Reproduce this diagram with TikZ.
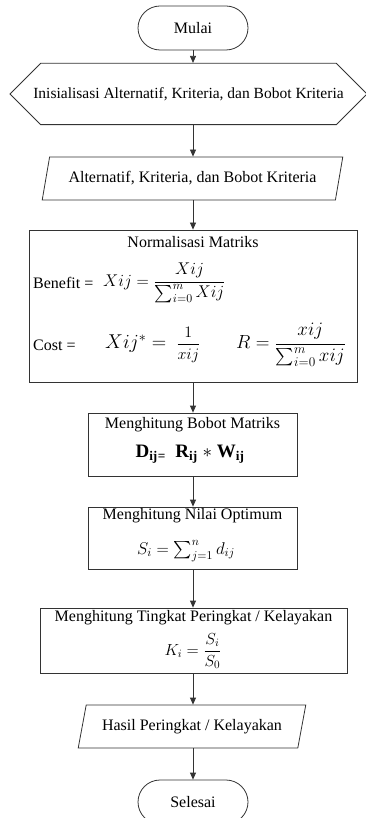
\documentclass[tikz,border=0pt]{standalone}
\usepackage{fix-cm}
\usepackage{amsmath}
\usepackage{fontspec}
\setmainfont{Liberation Serif}
\usetikzlibrary{shapes.geometric,shapes.misc,arrows.meta}

\begin{document}
\begin{tikzpicture}[x=1pt, y=-1pt,
    font=\fontsize{16}{19}\selectfont,
    garis/.style={draw=black!80, line width=0.8pt},
    panah/.style={garis, -{Triangle[length=7pt,width=6pt]}},
    terminal/.style={garis, rounded rectangle, minimum width=110pt,
      minimum height=44pt, inner sep=0pt},
    persiapan/.style={garis, chamfered rectangle, chamfered rectangle xsep=15pt,
      chamfered rectangle ysep=24pt, minimum width=357pt, minimum height=48pt,
      inner sep=0pt},
    masukan/.style={garis, trapezium, trapezium left angle=65,
      trapezium right angle=115, trapezium stretches=true,
      minimum height=43pt, inner sep=0pt},
    proses/.style={garis, rectangle, inner sep=0pt},
    teks/.style={inner sep=0pt}
  ]
  \useasboundingbox (0,0) rectangle (365,818);
  % Mulai
  \node[terminal] (mulai) at (193,28) {Mulai};
  % Inisialisasi (heksagon)
  \node[persiapan, font=\fontsize{15.5}{18}\selectfont] (inisial) at (188.5,94)
    {Inisialisasi Alternatif, Kriteria, dan Bobot Kriteria};
  % Data masukan
  \node[masukan, minimum width=301pt] (input) at (192.5,178.5)
    {Alternatif, Kriteria, dan Bobot Kriteria};
  % Normalisasi matriks
  \node[proses, minimum width=328pt, minimum height=152pt] (norm) at (193,306) {};
  \node[teks] (normjudul) at (193,242) {Normalisasi Matriks};
  \node[teks, anchor=west] (benefit) at (33,283) {Benefit =};
  \node[teks, anchor=west] (rumusb) at (103,283)
    {\fontsize{17}{20}\selectfont$\displaystyle Xij = \frac{Xij}{\sum_{i=0}^{m} Xij}$};
  \node[teks, anchor=west] (cost) at (33,345) {Cost =};
  \node[teks, anchor=west] (rumusc) at (105,345)
    {\fontsize{20}{24}\selectfont$Xij^{*} =$\enspace\fontsize{16}{19}\selectfont$\dfrac{1}{xij}$};
  \node[teks, anchor=west] (rumusr) at (236,345)
    {\fontsize{19}{22}\selectfont$R = \dfrac{xij}{\sum_{i=0}^{m} xij}$};
  % Bobot matriks
  \node[proses, minimum width=209pt, minimum height=63pt] (bobot) at (192.5,444.5) {};
  \node[teks] (bobotjudul) at (192.5,425) {Menghitung Bobot Matriks};
  \node[teks, font=\fontsize{19}{22}\selectfont] (rumusd) at (190,454)
    {\bfseries D\textsubscript{ij}\textsubscript{=}\enspace R\textsubscript{ij} $*$ W\textsubscript{ij}};
  % Nilai optimum
  \node[proses, minimum width=209pt, minimum height=62pt] (optimum) at (192.5,538) {};
  \node[teks] (optjudul) at (192.5,516) {Menghitung Nilai Optimum};
  \node[teks, font=\fontsize{17}{20}\selectfont] (rumuss) at (186,551)
    {$S_i = \sum\nolimits_{j=1}^{n} d_{ij}$};
  % Tingkat peringkat
  \node[proses, minimum width=307pt, minimum height=65pt] (tingkat) at (193.5,640.5) {};
  \node[teks] (tingkatjudul) at (193.5,618) {Menghitung Tingkat Peringkat / Kelayakan};
  \node[teks] (rumusk) at (193,651) {$K_i = \dfrac{S_i}{S_0}$};
  % Hasil
  \node[masukan, minimum width=228pt] (hasil) at (192,726.5)
    {Hasil Peringkat / Kelayakan};
  % Selesai
  \node[terminal] (selesai) at (193,802) {Selesai};
  % Panah
  \draw[panah] (mulai.south) -- (mulai.south |- inisial.north);
  \draw[panah] (mulai.south |- inisial.south) -- (mulai.south |- input.north);
  \draw[panah] (mulai.south |- input.south) -- (mulai.south |- norm.north);
  \draw[panah] (mulai.south |- norm.south) -- (mulai.south |- bobot.north);
  \draw[panah] (mulai.south |- bobot.south) -- (mulai.south |- optimum.north);
  \draw[panah] (mulai.south |- optimum.south) -- (mulai.south |- tingkat.north);
  \draw[panah] (mulai.south |- tingkat.south) -- (mulai.south |- hasil.north);
  \draw[panah] (mulai.south |- hasil.south) -- (selesai.north);
\end{tikzpicture}
\end{document}
